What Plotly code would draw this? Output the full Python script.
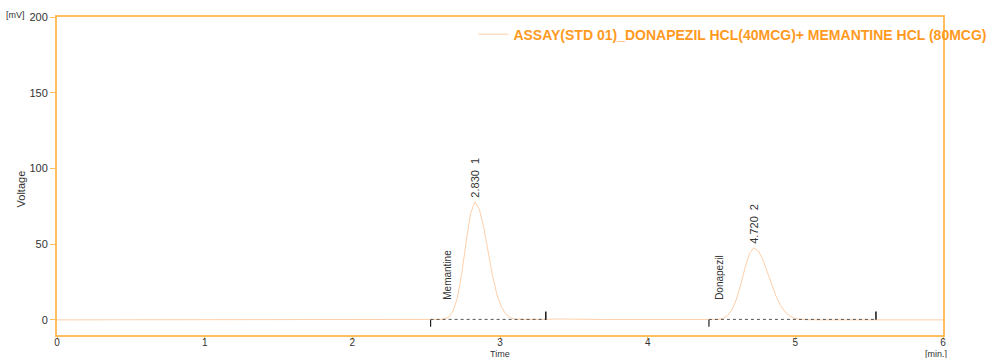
import plotly.graph_objects as go

# Chromatogram signal (time in min, voltage in mV)
time_min = [0.0, 1.0, 2.0, 2.5, 2.60, 2.65, 2.68, 2.71, 2.74, 2.77, 2.80, 2.83, 2.86, 2.89, 2.92,
            2.95, 2.98, 3.01, 3.04, 3.07, 3.11, 3.20, 3.30, 3.38, 3.43, 3.50, 3.70, 4.0,
            4.30, 4.47, 4.51, 4.54, 4.57, 4.60, 4.63, 4.66, 4.69, 4.72, 4.75, 4.78, 4.81,
            4.84, 4.87, 4.90, 4.93, 4.96, 4.99, 5.02, 5.07, 5.20, 5.50, 6.0]
voltage_mv = [0.0, 0.0, 0.0, 0.1, 0.3, 1.5, 5.4, 14.0, 30.0, 51.0, 70.0, 78.0, 73.0, 61.0, 44.5,
              28.8, 16.4, 8.3, 3.7, 1.4, 0.4, 0.2, 0.3, 0.6, 0.7, 0.5, 0.2, 0.1,
              0.1, 0.2, 0.95, 2.7, 6.4, 13.2, 23.2, 34.6, 44.0, 47.6, 45.5, 39.8, 31.7,
              23.2, 15.5, 9.4, 5.3, 2.7, 1.2, 0.5, 0.1, 0.0, 0.0, 0.0]

peak_rt = [2.830, 4.720]
peak_height = [78.0, 47.6]
peak_num = ["1", "2"]
peak_name = ["Memantine", "Donapezil"]
peak_start = [2.53, 4.415]
peak_end = [3.31, 5.546]

x_ticks = [0, 1, 2, 3, 4, 5, 6]
y_ticks = [0, 50, 100, 150, 200]

series_name = "ASSAY(STD 01)_DONAPEZIL HCL(40MCG)+ MEMANTINE HCL (80MCG)"

AXIS = "#FFBE5C"
FONT = "Liberation Sans, Arial, sans-serif"

fig = go.Figure()

fig.add_trace(go.Scatter(x=time_min, y=voltage_mv, mode="lines", name=series_name,
                         line=dict(color="#FFCFA8", width=1), showlegend=True))

# integration baselines and markers
for s, e in zip(peak_start, peak_end):
    fig.add_trace(go.Scatter(x=[s, e], y=[0.3, 0.3], mode="lines",
                             line=dict(color="#555555", width=1, dash="dot"), showlegend=False))
    fig.add_trace(go.Scatter(x=[s, s], y=[0, -4.5], mode="lines",
                             line=dict(color="#222222", width=1.2), showlegend=False))
    fig.add_trace(go.Scatter(x=[e, e], y=[0, 5.5], mode="lines",
                             line=dict(color="#222222", width=1.6), showlegend=False))

for rt, h, n, name in zip(peak_rt, peak_height, peak_num, peak_name):
    fig.add_annotation(x=rt, y=h, text=f"{rt:.3f}  {n}", textangle=-90, showarrow=False,
                       xanchor="center", yanchor="bottom", yshift=2,
                       font=dict(family=FONT, size=11, color="#333333"))
    fig.add_annotation(x=rt, y=0, text=name, textangle=-90, showarrow=False,
                       xanchor="center", yanchor="bottom", xshift=-27 if n == "1" else -34, yshift=18,
                       font=dict(family=FONT, size=10, color="#333333"))

fig.add_annotation(xref="paper", yref="paper", x=-0.05, y=0.46, text="Voltage", textangle=-90,
                   showarrow=False, font=dict(family=FONT, size=11, color="#333333"))
fig.add_annotation(xref="paper", yref="paper", x=-0.034, y=1.0, text="[mV]", showarrow=False,
                   xanchor="right", yanchor="middle", yshift=2,
                   font=dict(family=FONT, size=9, color="#333333"))
fig.add_annotation(xref="paper", yref="paper", x=0.5, y=0, text="Time", showarrow=False,
                   yanchor="top", yshift=-12, font=dict(family=FONT, size=9, color="#333333"))
fig.add_annotation(xref="paper", yref="paper", x=1.0, y=0, text="[min.]", showarrow=False,
                   yanchor="top", yshift=-12, xshift=6, font=dict(family=FONT, size=9, color="#333333"))

fig.update_layout(
    width=987, height=358,
    margin=dict(l=57, r=44, t=17, b=23, autoexpand=False),
    paper_bgcolor="white", plot_bgcolor="white",
    font=dict(family=FONT, size=11, color="#333333"),
    legend=dict(x=0.47, y=0.995, xanchor="left", yanchor="top", bgcolor="rgba(0,0,0,0)",
                font=dict(family=FONT, size=14, color="#FF9A1F", weight="bold")),
    xaxis=dict(range=[0, 6], tickvals=x_ticks, ticktext=[str(v) for v in x_ticks],
               showgrid=False, zeroline=False, showline=True, linecolor=AXIS, linewidth=2,
               mirror=True, ticks="outside", ticklen=3, tickcolor=AXIS, tickwidth=1,
               ticklabelstandoff=-6, tickfont=dict(size=10)),
    yaxis=dict(range=[-10, 200], tickvals=y_ticks, ticktext=[str(v) for v in y_ticks],
               showgrid=False, zeroline=False, showline=True, linecolor=AXIS, linewidth=2,
               mirror=True, ticks="outside", ticklen=5, tickcolor=AXIS, tickwidth=1),
)

fig.write_html("out.html", config={"displayModeBar": False},
               post_script="document.body.style.margin='0';document.body.style.overflow='hidden';")
